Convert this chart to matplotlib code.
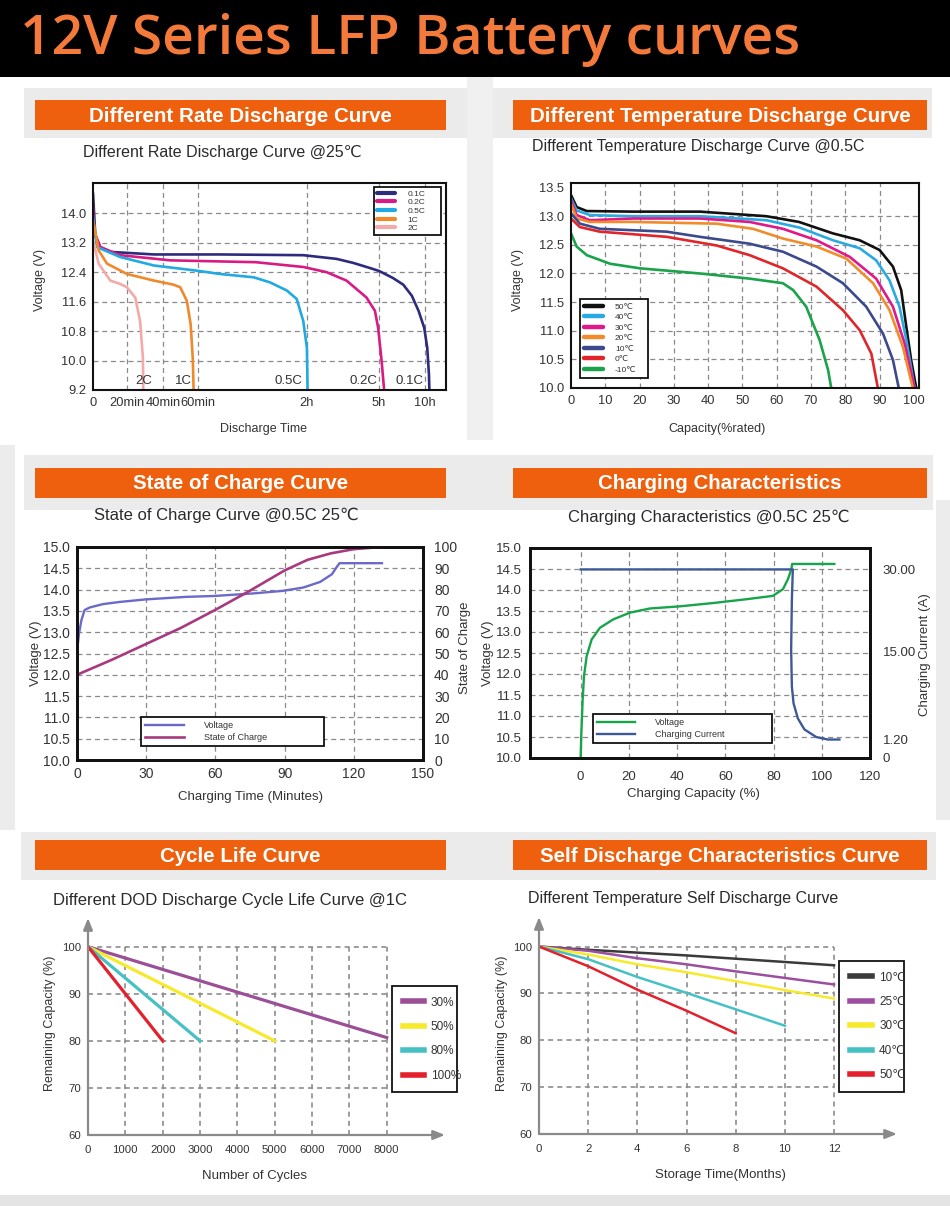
import numpy as np
import matplotlib
matplotlib.use('Agg')
import matplotlib.pyplot as plt
from matplotlib.patches import Rectangle

W, H = 950, 1206
plt.rcParams['font.family'] = ['Liberation Sans', 'DejaVu Sans']

# ================= DATA =================
# --- Chart 1: Different Rate Discharge Curve (time in minutes, voltage V)
rate_labels = ['0.1C', '0.2C', '0.5C', '1C', '2C']
rate_colors = ['#2e2b7d', '#d81b84', '#21a9e1', '#f0892c', '#f4aaa8']
t_01c = [0, 1.4, 4.3, 10.1, 35.0, 72.2, 118, 194, 236, 278, 302, 392, 459, 515, 559, 596, 616, 627, 630]
v_01c = [14.55, 13.36, 13.08, 12.95, 12.88, 12.88, 12.86, 12.76, 12.65, 12.51, 12.43, 12.24, 12.06, 11.76, 11.35, 10.89, 10.34, 9.61, 9.15]
t_02c = [0, 0.4, 4.3, 15.9, 44.2, 91.8, 118, 169, 219, 269, 290, 298, 318, 335]
v_02c = [14.18, 13.54, 13.08, 12.86, 12.72, 12.67, 12.54, 12.40, 12.17, 11.71, 11.35, 10.89, 9.97, 9.15]
t_05c = [0, 2.3, 15.9, 35, 59.4, 72.2, 90.7, 99.8, 109, 114.4, 118, 120, 121.7]
v_05c = [13.9, 13.08, 12.81, 12.58, 12.44, 12.35, 12.26, 12.12, 11.9, 11.67, 11.07, 10.34, 9.15]
t_1c = [0, 3.3, 8.2, 19.8, 35.0, 46.1, 49.9, 53.7, 55.9, 57.1, 57.6]
v_1c = [13.82, 12.99, 12.63, 12.35, 12.17, 12.06, 11.99, 11.62, 10.98, 10.06, 9.15]
t_2c = [0, 3.3, 10.1, 15.9, 19.8, 24.5, 27.2, 28.8, 29.0]
v_2c = [13.27, 12.63, 12.17, 12.08, 11.99, 11.71, 11.07, 10.06, 9.15]
rate_end_label_t = [503, 261, 110, 52, 29]
time_ticks = [0, 20, 40, 60, 120, 300, 600]
time_tick_labels = ['0', '20min', '40min', '60min', '2h', '5h', '10h']
rate_volt_ticks = [9.2, 10.0, 10.8, 11.6, 12.4, 13.2, 14.0]
# non-linear time axis of the original chart (minutes -> axis position)
time_scale_min = [0, 20, 40, 60, 120, 300, 600, 738]
time_scale_pos = [0, 9.7, 19.8, 29.7, 60.6, 81, 94, 100]

# --- Chart 2: Different Temperature Discharge Curve (capacity %, voltage V)
temp_labels = ['50℃', '40℃', '30℃', '20℃', '10℃', '0℃', '-10℃']
temp_colors = ['#111111', '#29abe2', '#e0198a', '#f08c2c', '#3c4a8c', '#e0262a', '#1aa34a']
cap_50 = [0, 1.65, 4.6, 18.2, 37.6, 57, 66.5, 76.4, 84.2, 90, 93.9, 96.3, 97.8, 99.2, 100.7]
vt_50 = [13.37, 13.16, 13.09, 13.08, 13.08, 13.0, 12.9, 12.7, 12.58, 12.41, 12.12, 11.71, 11.07, 10.49, 10.0]
cap_40 = [0, 1.65, 5.5, 18.2, 37.6, 57, 66.7, 76.4, 84.2, 89, 92.9, 95.8, 97.8, 100.2]
vt_40 = [13.31, 13.1, 13.02, 13.0, 13.0, 12.93, 12.8, 12.58, 12.44, 12.23, 11.88, 11.42, 10.84, 10.0]
cap_30 = [0, 1.65, 5.5, 18.2, 37.6, 52.1, 61.8, 71.6, 81.3, 89, 93.9, 97.3, 100.2]
vt_30 = [13.28, 13.02, 12.93, 12.96, 12.96, 12.9, 12.78, 12.58, 12.29, 11.91, 11.42, 10.78, 10.0]
cap_20 = [0, 1.65, 5.5, 18.2, 42.4, 53.1, 61.8, 71.6, 80.3, 88.1, 92.9, 96.8, 99.7]
vt_20 = [13.22, 12.96, 12.9, 12.9, 12.87, 12.78, 12.61, 12.47, 12.26, 11.83, 11.36, 10.72, 10.0]
cap_10 = [0, 2.6, 8.4, 27.9, 37.6, 52.1, 61.8, 71.6, 79.3, 86.1, 91, 93.9, 95.6]
vt_10 = [13.05, 12.87, 12.78, 12.73, 12.64, 12.52, 12.38, 12.12, 11.83, 11.42, 10.95, 10.49, 10.0]
cap_0 = [0, 2.6, 8.4, 27.9, 42.4, 52.1, 61.8, 71.6, 79.3, 84.2, 87.6, 89.5]
vt_0 = [12.96, 12.81, 12.73, 12.64, 12.49, 12.32, 12.09, 11.77, 11.36, 11.01, 10.6, 10.0]
cap_m10 = [0, 1.65, 4.6, 11.4, 20.1, 37.6, 52.1, 61.8, 64.8, 68.6, 72.5, 75, 75.9]
vt_m10 = [12.7, 12.47, 12.32, 12.17, 12.09, 12.0, 11.91, 11.83, 11.71, 11.42, 10.84, 10.31, 10.0]
cap_ticks = [0, 10, 20, 30, 40, 50, 60, 70, 80, 90, 100]
temp_volt_ticks = [10.0, 10.5, 11.0, 11.5, 12.0, 12.5, 13.0, 13.5]

# --- Chart 3: State of Charge Curve
soc_time = [0, 15, 30, 45, 60, 75, 90, 100, 110, 120, 132]
soc_val = [40, 47, 54.5, 62, 70.5, 79.5, 89, 94, 97, 99, 100]
socv_time = [0, 0.87, 1.9, 3.3, 5.5, 11.3, 18.5, 29.8, 47.5, 59.4, 76.4, 89.2, 98.2, 105.4, 110.5, 112.6, 113.8, 132.2]
socv_volt = [12.54, 12.97, 13.28, 13.52, 13.58, 13.66, 13.71, 13.77, 13.83, 13.85, 13.91, 13.97, 14.05, 14.18, 14.36, 14.53, 14.62, 14.62]
soc_time_ticks = [0, 30, 60, 90, 120, 150]
volt_ticks_15 = [10.0, 10.5, 11.0, 11.5, 12.0, 12.5, 13.0, 13.5, 14.0, 14.5, 15.0]
soc_ticks = [0, 10, 20, 30, 40, 50, 60, 70, 80, 90, 100]

# --- Chart 4: Charging Characteristics
chg_cap_v = [0, 0.28, 0.83, 1.38, 2.48, 4.55, 8, 13.5, 20.4, 28.7, 41, 55, 68.7, 79.7, 83.9, 86, 87.4, 87.7, 105.2]
chg_volt = [10.0, 10.58, 11.38, 11.94, 12.42, 12.82, 13.10, 13.30, 13.46, 13.56, 13.61, 13.69, 13.78, 13.86, 14.02, 14.26, 14.50, 14.62, 14.62]
chg_cap_i = [0, 88, 87.6, 87.3, 87.6, 88.3, 90.1, 92.8, 97.7, 102.5, 107.3]
chg_curr = [30, 30, 24.5, 15.3, 9.5, 6.85, 4.49, 2.78, 1.59, 1.2, 1.2]
chg_cap_ticks = [0, 20, 40, 60, 80, 100, 120]
curr_ticks = [0, 1.2, 15, 30]
curr_tick_labels = ['0', '1.20', '15.00', '30.00']
# the original right axis is not linear: current (A) -> voltage-axis equivalent
curr_scale_a = [0, 1.2, 15, 30, 33.9]
curr_scale_v = [10.0, 10.44, 12.54, 14.49, 15.0]

# --- Chart 5: Cycle life
dod_labels = ['30%', '50%', '80%', '100%']
dod_colors = ['#9b4f96', '#f7ea2a', '#45c1c4', '#e3202b']
dod_cycles = [[0, 8000], [0, 5000], [0, 3000], [0, 2000]]
dod_capacity = [[100, 80.7], [100, 80], [100, 80], [100, 80]]
cycle_ticks = [0, 1000, 2000, 3000, 4000, 5000, 6000, 7000, 8000]
capacity_ticks = [60, 70, 80, 90, 100]

# --- Chart 6: Self discharge
sd_labels = ['10℃', '25℃', '30℃', '40℃', '50℃']
sd_colors = ['#3a3a3a', '#9b4f9e', '#f7ea2a', '#45c1c4', '#e3202b']
sd_months = [[0, 2, 4, 6, 8, 10, 12], [0, 2, 4, 6, 8, 10, 12], [0, 2, 4, 6, 8, 10, 12],
             [0, 2, 4, 6, 8, 10], [0, 2, 4, 6, 8]]
sd_capacity = [[100, 99.3, 98.7, 98.1, 97.4, 96.7, 96.0],
               [100, 99.1, 97.5, 96.2, 94.7, 93.3, 91.9],
               [100, 98.3, 96.2, 94.5, 92.6, 90.7, 88.9],
               [100, 97.3, 93.5, 90.1, 86.6, 83.1],
               [100, 95.8, 90.8, 86.3, 81.5]]
month_ticks = [0, 2, 4, 6, 8, 10, 12]

# ================= LAYOUT HELPERS =================
fig = plt.figure(figsize=(W / 100, H / 100), dpi=100)
fig.patch.set_facecolor('white')

def axes_px(l, t, r, b):
    return fig.add_axes([l / W, 1 - b / H, (r - l) / W, (b - t) / H])

def rect_px(l, t, r, b, color):
    fig.add_artist(Rectangle((l / W, 1 - b / H), (r - l) / W, (b - t) / H,
                             transform=fig.transFigure, facecolor=color,
                             edgecolor='none', zorder=-10))

def text_px(x, y, s, **kw):
    fig.text(x / W, 1 - y / H, s, **kw)

def legend_px(ax, handles, labels, box, fs, loc, **kw):
    l, t, r, b = box
    leg = ax.legend(handles, labels, loc=loc,
                    bbox_to_anchor=(l / W, 1 - b / H, (r - l) / W, (b - t) / H),
                    bbox_transform=fig.transFigure, mode='expand', borderaxespad=0,
                    fancybox=False, edgecolor='#111111', framealpha=1, fontsize=fs, **kw)
    leg.get_frame().set_linewidth(1.3)
    for tx in leg.get_texts():
        tx.set_color('#333333')
    return leg

TXT = '#333333'
GRID = dict(color='#8a8a8a', lw=0.9, ls=(0, (4, 3)), zorder=1)

# backgrounds
rect_px(0, 0, 950, 77, '#000000')
rect_px(24, 88, 467, 138, '#ebebeb')
rect_px(493, 88, 932, 138, '#ebebeb')
rect_px(467, 77, 493, 440, '#f0f0f0')
rect_px(0, 445, 15, 830, '#ececec')
rect_px(936, 500, 950, 820, '#ececec')
rect_px(24, 455, 933, 510, '#ebebeb')
rect_px(21, 832, 936, 880, '#ebebeb')
rect_px(0, 1195, 950, 1206, '#e4e4e4')

text_px(20, 54, '12V Series LFP Battery curves', fontfamily=['Open Sans', 'DejaVu Sans'],
        fontweight='semibold', fontsize=39.8, color='#f47a3c', va='baseline', ha='left')

bar_font = ['Liberation Sans', 'DejaVu Sans']
bars = [((35, 100, 446, 130), 'Different Rate Discharge Curve'),
        ((513, 100, 927, 130), 'Different Temperature Discharge Curve'),
        ((35, 468, 446, 498), 'State of Charge Curve'),
        ((513, 468, 927, 498), 'Charging Characteristics'),
        ((35, 840, 446, 870), 'Cycle Life Curve'),
        ((513, 840, 927, 870), 'Self Discharge Characteristics Curve')]
for (l, t, r, b), s in bars:
    rect_px(l, t, r, b, '#ee5f0e')
    text_px((l + r) / 2, (t + b) / 2 + 1, s, ha='center', va='center', color='white',
            fontsize=14.8, fontweight='bold', fontfamily=bar_font)

def style_box(ax, lw=1.6):
    for sp in ax.spines.values():
        sp.set_linewidth(lw)
        sp.set_color('#111111')
        sp.set_zorder(5)
    ax.tick_params(length=0, colors=TXT)

# ================= CHART 1 =================
ax1 = axes_px(93, 183, 446, 390)
def fwd1(t):
    return np.interp(t, time_scale_min, time_scale_pos)
def inv1(p):
    return np.interp(p, time_scale_pos, time_scale_min)
ax1.set_xscale('function', functions=(fwd1, inv1))
ax1.set_xlim(0, 738)
ax1.set_ylim(9.2, 14.82)
for x in time_ticks[1:]:
    ax1.axvline(x, **GRID)
for y in rate_volt_ticks[1:]:
    ax1.axhline(y, **GRID)
series1 = [(t_01c, v_01c), (t_02c, v_02c), (t_05c, v_05c), (t_1c, v_1c), (t_2c, v_2c)]
h1 = []
for (t, v), c, lab in zip(series1, rate_colors, rate_labels):
    ln, = ax1.plot(t, v, color=c, lw=1.9, zorder=3, solid_capstyle='round')
    h1.append(ln)
for lab, t in zip(rate_labels, rate_end_label_t):
    ax1.text(t, 9.28, lab, ha='center', va='bottom', fontsize=9.5, color=TXT, zorder=4)
ax1.set_xticks(time_ticks)
ax1.set_xticklabels(time_tick_labels)
ax1.set_yticks(rate_volt_ticks)
ax1.set_yticklabels(['%.1f' % v for v in rate_volt_ticks])
style_box(ax1, 1.5)
ax1.tick_params(labelsize=9.3, pad=5)
ax1.minorticks_off()
leg = legend_px(ax1, h1, rate_labels, (374, 187, 441, 247), 6, 'upper left',
                handlelength=2.2, handletextpad=1.5, labelspacing=0.1, borderpad=0.35)
for ln in leg.get_lines():
    ln.set_linewidth(3)
text_px(83, 152, 'Different Rate Discharge Curve @25℃', fontsize=11.5, color='#2a2a2a', va='center')
text_px(40, 280, 'Voltage (V)', fontsize=9, color=TXT, rotation=90, va='center', ha='center')
text_px(263, 429, 'Discharge Time', fontsize=9, color=TXT, va='center', ha='center')

# ================= CHART 2 =================
ax2 = axes_px(571, 183, 919, 388)
ax2.set_xlim(0, 101.5)
ax2.set_ylim(10.0, 13.58)
for x in cap_ticks[1:-1]:
    ax2.axvline(x, **GRID)
for y in temp_volt_ticks[1:-1]:
    ax2.axhline(y, **GRID)
series2 = [(cap_50, vt_50), (cap_40, vt_40), (cap_30, vt_30), (cap_20, vt_20),
           (cap_10, vt_10), (cap_0, vt_0), (cap_m10, vt_m10)]
h2 = []
for (x, v), c in zip(series2, temp_colors):
    ln, = ax2.plot(x, v, color=c, lw=1.9, zorder=3, solid_capstyle='round')
    h2.append(ln)
ax2.set_xticks(cap_ticks)
ax2.set_yticks(temp_volt_ticks)
ax2.set_yticklabels(['%.1f' % v for v in temp_volt_ticks])
style_box(ax2, 1.5)
ax2.tick_params(labelsize=9.3, pad=5)
leg = legend_px(ax2, h2, temp_labels, (580, 292, 648, 378), 6, 'lower left',
                handlelength=2.2, handletextpad=1.5, labelspacing=0.32, borderpad=0.5)
for ln in leg.get_lines():
    ln.set_linewidth(3.2)
text_px(532, 147, 'Different Temperature Discharge Curve @0.5C', fontsize=11.5, color='#2a2a2a', va='center')
text_px(518, 280, 'Voltage (V)', fontsize=9, color=TXT, rotation=90, va='center', ha='center')
text_px(717, 429, 'Capacity(%rated)', fontsize=9, color=TXT, va='center', ha='center')

# ================= CHART 3 =================
ax3 = axes_px(77, 547, 423, 760)
ax3.set_xlim(0, 150)
ax3.set_ylim(10.0, 15.0)
for x in soc_time_ticks[1:-1]:
    ax3.axvline(x, **GRID)
for y in volt_ticks_15[1:-1]:
    ax3.axhline(y, **GRID)
l3a, = ax3.plot(socv_time, socv_volt, color='#6b69c9', lw=1.7, zorder=3)
ax3b = ax3.twinx()
ax3b.set_ylim(0, 100)
l3b, = ax3b.plot(soc_time, soc_val, color='#a8397f', lw=1.9, zorder=3)
ax3.set_xticks(soc_time_ticks)
ax3.set_yticks(volt_ticks_15)
ax3.set_yticklabels(['%.1f' % v for v in volt_ticks_15])
ax3b.set_yticks(soc_ticks)
style_box(ax3, 2.0)
style_box(ax3b, 2.0)
ax3.tick_params(labelsize=10, pad=5)
ax3b.tick_params(labelsize=10, pad=8)
legend_px(ax3b, [l3a, l3b], ['Voltage', 'State of Charge'], (141, 711, 324, 746), 6.5, 'lower left',
          handlelength=4.3, handletextpad=2.2, labelspacing=0.3, borderpad=0.45)
text_px(94, 515, 'State of Charge Curve @0.5C 25℃', fontsize=12, color='#2a2a2a', va='center')
text_px(36, 653, 'Voltage (V)', fontsize=9.5, color=TXT, rotation=90, va='center', ha='center')
text_px(465, 648, 'State of Charge', fontsize=9.5, color=TXT, rotation=90, va='center', ha='center')
text_px(250, 797, 'Charging Time (Minutes)', fontsize=9.5, color=TXT, va='center', ha='center')

# ================= CHART 4 =================
ax4 = axes_px(530, 548, 870, 758)
ax4.set_xlim(-21, 120)
ax4.set_ylim(10.0, 15.0)
for x in chg_cap_ticks[:-1]:
    ax4.axvline(x, **GRID)
for y in volt_ticks_15[1:-1]:
    ax4.axhline(y, **GRID)
l4a, = ax4.plot(chg_cap_v, chg_volt, color='#17a54b', lw=1.7, zorder=3)
ax4b = ax4.twinx()
def fwd4(a):
    return np.interp(a, curr_scale_a, curr_scale_v)
def inv4(v):
    return np.interp(v, curr_scale_v, curr_scale_a)
ax4b.set_yscale('function', functions=(fwd4, inv4))
ax4b.set_ylim(0, 33.9)
l4b, = ax4b.plot(chg_cap_i, chg_curr, color='#3d5a98', lw=1.7, zorder=3)
ax4.set_xticks(chg_cap_ticks)
ax4.set_yticks(volt_ticks_15)
ax4.set_yticklabels(['%.1f' % v for v in volt_ticks_15])
ax4b.set_yticks(curr_ticks)
ax4b.set_yticklabels(curr_tick_labels)
ax4b.minorticks_off()
style_box(ax4, 2.0)
style_box(ax4b, 2.0)
ax4.tick_params(labelsize=9.5, pad=6)
ax4.tick_params(axis='x', pad=9)
ax4b.tick_params(labelsize=9.5, pad=9)
legend_px(ax4b, [l4a, l4b], ['Voltage', 'Charging Current'], (593, 709, 772, 743), 6.5, 'lower left',
          handlelength=4.2, handletextpad=2.2, labelspacing=0.3, borderpad=0.45)
text_px(568, 517, 'Charging Characteristics @0.5C 25℃', fontsize=12, color='#2a2a2a', va='center')
text_px(488, 653, 'Voltage (V)', fontsize=9.5, color=TXT, rotation=90, va='center', ha='center')
text_px(925, 655, 'Charging Current (A)', fontsize=9.5, color=TXT, rotation=90, va='center', ha='center')
text_px(693, 794, 'Charging Capacity (%)', fontsize=9.5, color=TXT, va='center', ha='center')

# ================= CHART 5 & 6 helpers =================
GRID2 = dict(colors='#8c8c8c', lw=1.2, linestyles=(0, (3, 2.5)), zorder=1)

def arrow_axes(ax):
    for sp in ax.spines.values():
        sp.set_visible(False)
    kw = dict(arrowprops=dict(arrowstyle='-|>,head_length=0.7,head_width=0.28', color='#8a8a8a',
                              lw=1.6, shrinkA=0, shrinkB=0), xycoords='axes fraction',
              textcoords='axes fraction')
    ax.annotate('', xy=(1, 0), xytext=(0, 0), **kw)
    ax.annotate('', xy=(0, 1), xytext=(0, 0), **kw)
    ax.tick_params(length=0, colors=TXT, labelsize=8.2, pad=5)
    ax.patch.set_alpha(0)

# ================= CHART 5 =================
ax5 = axes_px(88, 918, 445, 1135)
ax5.set_xlim(0, 9560)
ax5.set_ylim(60, 106.1)
ax5.vlines(cycle_ticks[1:], 60, 100, **GRID2)
ax5.hlines(capacity_ticks[1:], 0, cycle_ticks[-1], **GRID2)
h5 = []
for x, y, c in zip(dod_cycles, dod_capacity, dod_colors):
    ln, = ax5.plot(x, y, color=c, lw=2.3, zorder=3)
    h5.append(ln)
ax5.set_xticks(cycle_ticks)
ax5.set_yticks(capacity_ticks)
arrow_axes(ax5)
ax5.tick_params(axis='x', pad=7)
leg = legend_px(ax5, h5, dod_labels, (392, 986, 457, 1091), 8.5, 'upper left',
                handlelength=1.8, handletextpad=0.6, labelspacing=1.05, borderpad=0.9)
for ln in leg.get_lines():
    ln.set_linewidth(4)
text_px(53, 900, 'Different DOD Discharge Cycle Life Curve @1C', fontsize=12, color='#2a2a2a', va='center')
text_px(50, 1023, 'Remaining Capacity (%)', fontsize=9, color=TXT, rotation=90, va='center', ha='center')
text_px(255, 1176, 'Number of Cycles', fontsize=9.5, color=TXT, va='center', ha='center')

# ================= CHART 6 =================
ax6 = axes_px(539, 917, 897, 1134)
ax6.set_xlim(0, 14.56)
ax6.set_ylim(60, 106.3)
ax6.vlines(month_ticks[1:], 60, 100, **GRID2)
ax6.hlines(capacity_ticks[1:], 0, month_ticks[-1], **GRID2)
h6 = []
for x, y, c in zip(sd_months, sd_capacity, sd_colors):
    ln, = ax6.plot(x, y, color=c, lw=1.8, zorder=3)
    h6.append(ln)
ax6.set_xticks(month_ticks)
ax6.set_yticks(capacity_ticks)
arrow_axes(ax6)
ax6.tick_params(axis='x', pad=7)
leg = legend_px(ax6, h6, sd_labels, (839, 961, 904, 1091), 8.5, 'upper left',
                handlelength=1.9, handletextpad=0.6, labelspacing=1.05, borderpad=0.9)
for ln in leg.get_lines():
    ln.set_linewidth(4)
text_px(528, 898, 'Different Temperature Self Discharge Curve', fontsize=11.5, color='#2a2a2a', va='center')
text_px(502, 1023, 'Remaining Capacity (%)', fontsize=9, color=TXT, rotation=90, va='center', ha='center')
text_px(720, 1175, 'Storage Time(Months)', fontsize=9.5, color=TXT, va='center', ha='center')

fig.savefig('out.png', dpi=100, facecolor=fig.get_facecolor())
